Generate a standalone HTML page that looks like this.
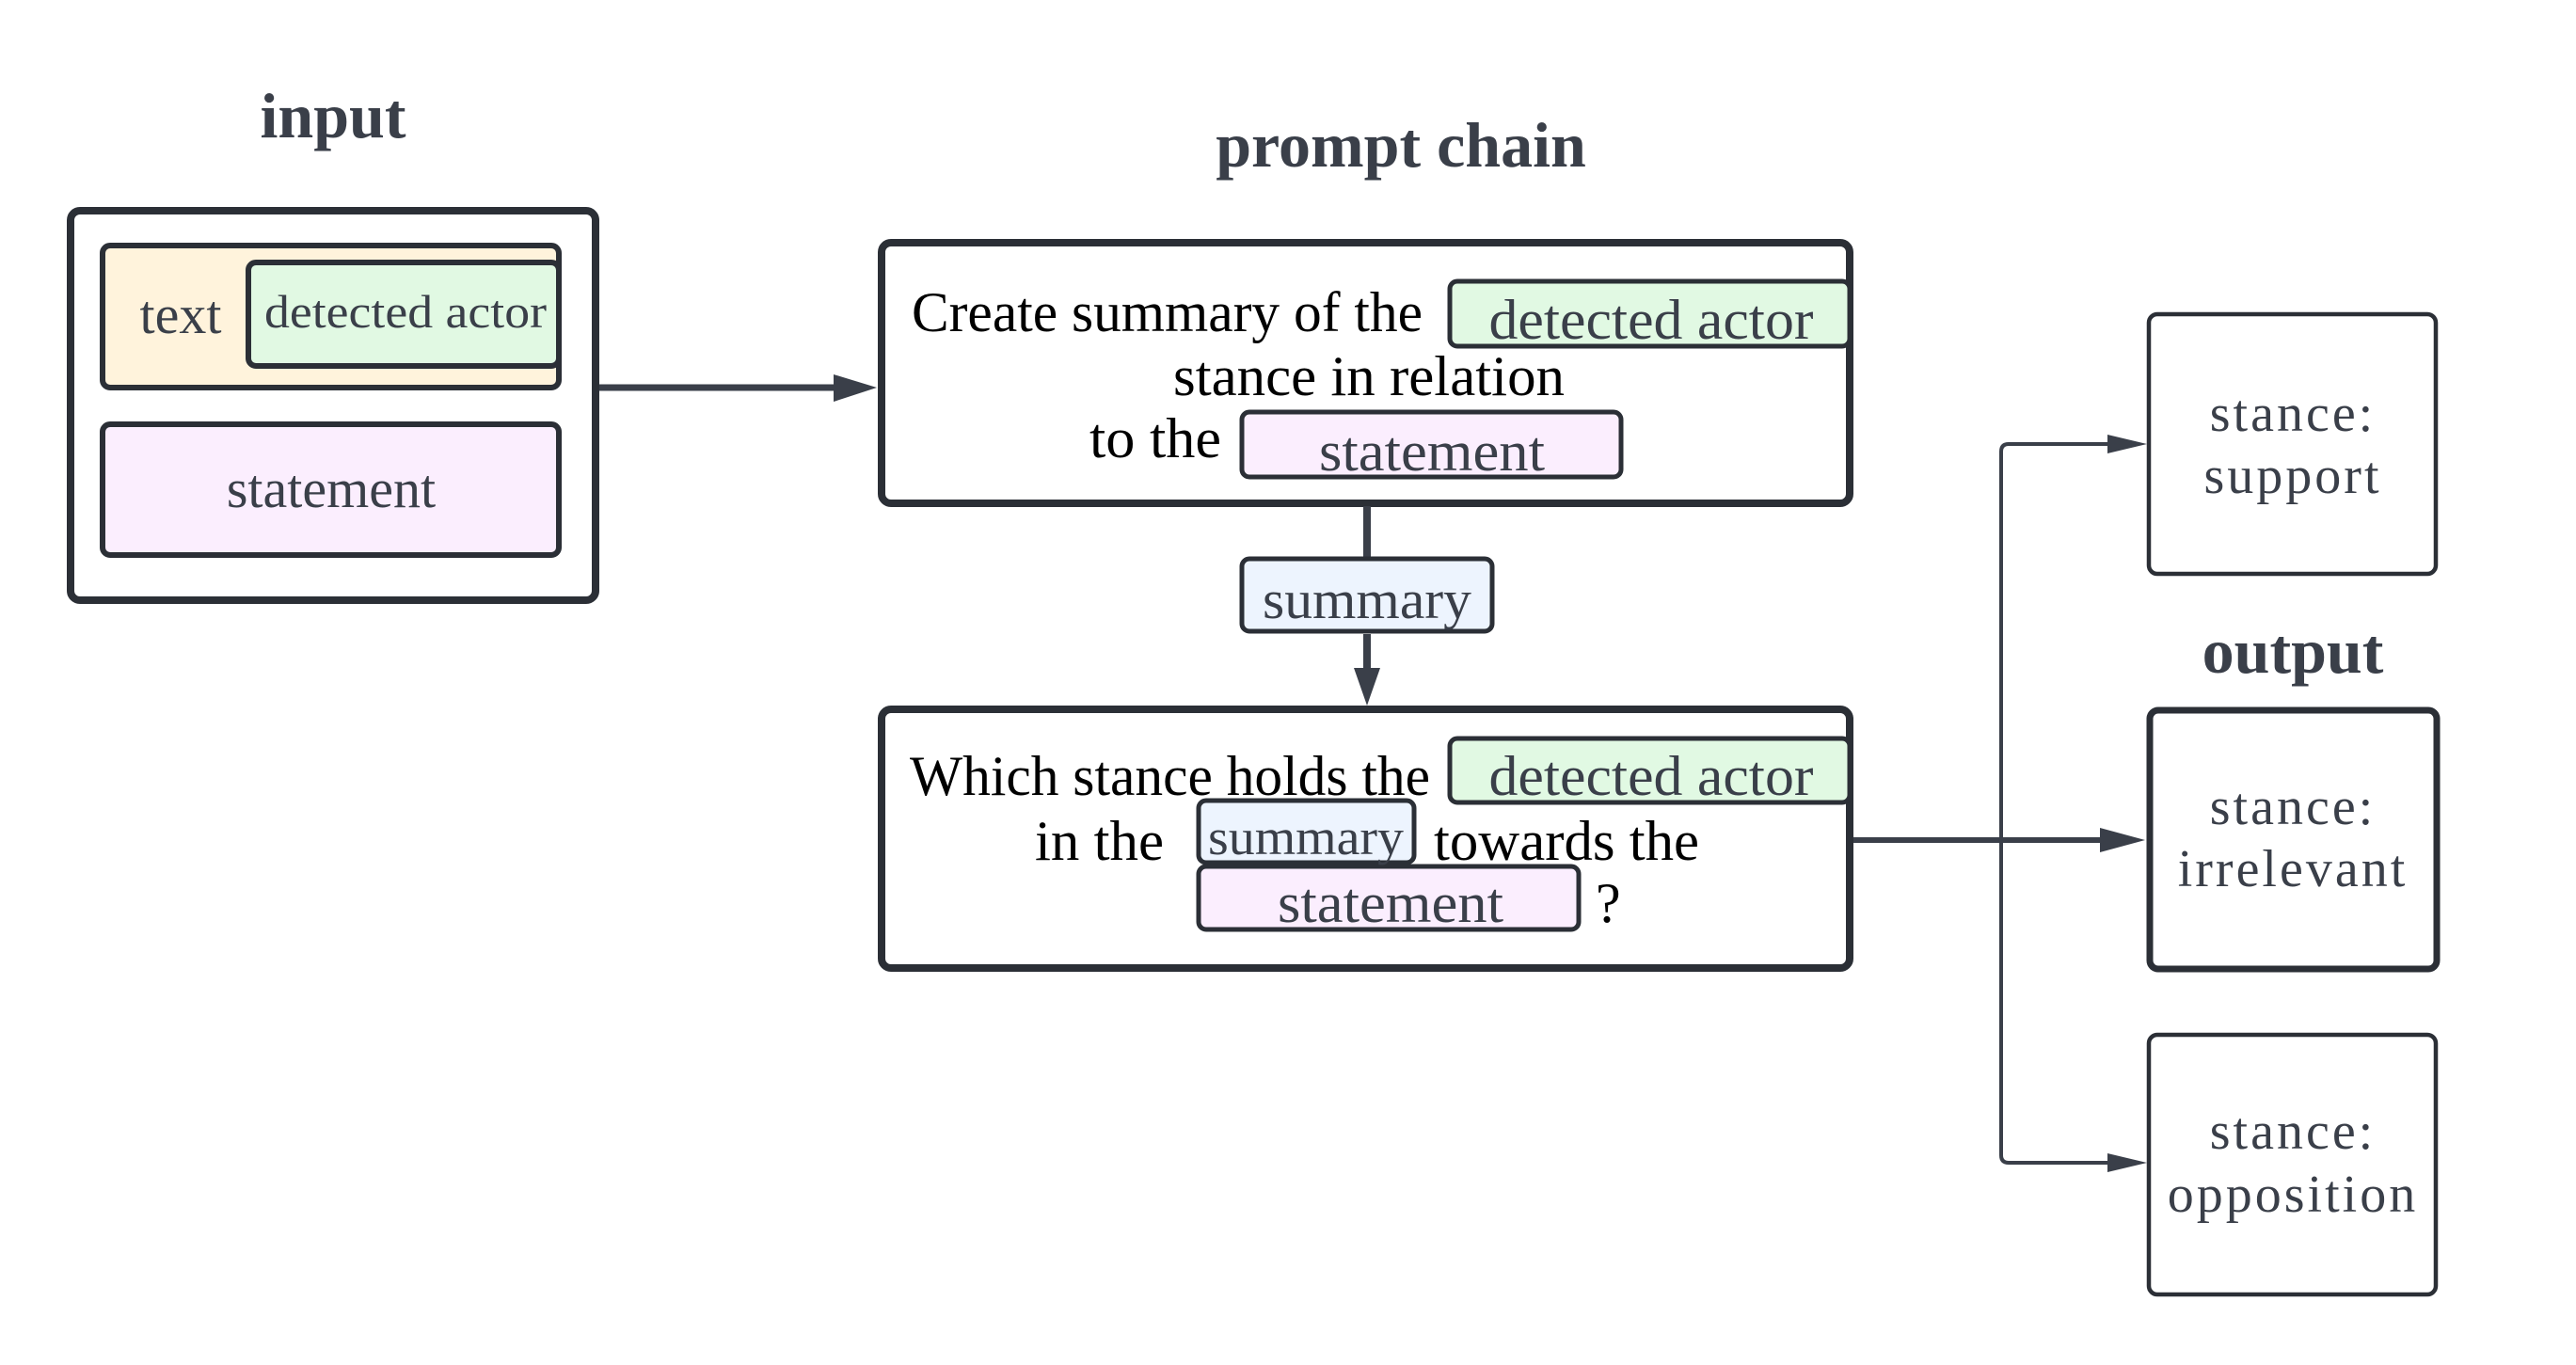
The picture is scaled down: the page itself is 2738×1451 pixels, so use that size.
<!DOCTYPE html>
<html><head><meta charset="utf-8"><style>
html,body{margin:0;padding:0;background:#fff;}
svg{display:block;}
text{font-family:"Liberation Serif",serif;}
</style></head><body>
<svg width="2738" height="1451" viewBox="0 0 2738 1451" xmlns="http://www.w3.org/2000/svg">
<g fill="#3a3f49" font-weight="bold" text-anchor="middle" font-size="68">
<text x="354" y="146">input</text>
<text x="1489" y="177">prompt chain</text>
<text x="2437" y="715">output</text>
</g>

<!-- input box -->
<rect x="75" y="224" width="558" height="414" rx="10" fill="#fff" stroke="#2b2f36" stroke-width="8"/>
<rect x="109" y="261" width="485" height="151" rx="8" fill="#fff3dc" stroke="#2b2f36" stroke-width="6"/>
<rect x="264" y="279" width="330" height="110" rx="8" fill="#e1f9e3" stroke="#2b2f36" stroke-width="6"/>
<rect x="109" y="451" width="485" height="139" rx="8" fill="#fbeefe" stroke="#2b2f36" stroke-width="6"/>
<g fill="#3a3f49" text-anchor="middle">
<text x="192" y="354" font-size="58">text</text>
<text x="431" y="348" font-size="50" textLength="300" lengthAdjust="spacingAndGlyphs">detected actor</text>
<text x="352" y="539" font-size="58">statement</text>
</g>

<!-- arrow input -> box1 -->
<line x1="637" y1="412" x2="900" y2="412" stroke="#3a3f49" stroke-width="7"/>
<polygon points="932,412 886,398 886,427" fill="#3a3f49"/>

<!-- box1 -->
<rect x="937" y="258" width="1029" height="277" rx="10" fill="#fff" stroke="#2b2f36" stroke-width="8"/>
<rect x="1541" y="299" width="425" height="69" rx="8" fill="#e1f9e3" stroke="#2b2f36" stroke-width="5"/>
<rect x="1320" y="438" width="403" height="69" rx="8" fill="#fbeefe" stroke="#2b2f36" stroke-width="5"/>
<g font-size="60">
<text x="969" y="352" fill="#000" textLength="543" lengthAdjust="spacingAndGlyphs">Create summary of the</text>
<text x="1455" y="420" fill="#000" text-anchor="middle" textLength="416" lengthAdjust="spacingAndGlyphs">stance in relation</text>
<text x="1158" y="486" fill="#000" textLength="140" lengthAdjust="spacingAndGlyphs">to the</text>
<text x="1755" y="360" fill="#3a3f49" text-anchor="middle" textLength="345" lengthAdjust="spacingAndGlyphs">detected actor</text>
<text x="1522" y="500" fill="#3a3f49" text-anchor="middle" textLength="240" lengthAdjust="spacingAndGlyphs">statement</text>
</g>

<!-- connector box1 -> summary -> box2 -->
<line x1="1453" y1="538" x2="1453" y2="594" stroke="#3a3f49" stroke-width="8"/>
<rect x="1320" y="594" width="266" height="77" rx="8" fill="#edf4fe" stroke="#2b2f36" stroke-width="5"/>
<text x="1453" y="657" font-size="58" fill="#3a3f49" text-anchor="middle" textLength="222" lengthAdjust="spacingAndGlyphs">summary</text>
<line x1="1453" y1="674" x2="1453" y2="715" stroke="#3a3f49" stroke-width="8"/>
<polygon points="1453,750 1439,710 1467,710" fill="#3a3f49"/>

<!-- box2 -->
<rect x="937" y="754" width="1029" height="275" rx="10" fill="#fff" stroke="#2b2f36" stroke-width="8"/>
<rect x="1541" y="785" width="425" height="68" rx="8" fill="#e1f9e3" stroke="#2b2f36" stroke-width="5"/>
<rect x="1274" y="851" width="229" height="66" rx="8" fill="#edf4fe" stroke="#2b2f36" stroke-width="5"/>
<rect x="1274" y="921" width="404" height="67" rx="8" fill="#fbeefe" stroke="#2b2f36" stroke-width="5"/>
<g font-size="60">
<text x="967" y="845" fill="#000" textLength="553" lengthAdjust="spacingAndGlyphs">Which stance holds the</text>
<text x="1100" y="914" fill="#000" textLength="137" lengthAdjust="spacingAndGlyphs">in the</text>
<text x="1524" y="914" fill="#000" textLength="282" lengthAdjust="spacingAndGlyphs">towards the</text>
<text x="1696" y="980" fill="#000">?</text>
<text x="1755" y="845" fill="#3a3f49" text-anchor="middle" textLength="345" lengthAdjust="spacingAndGlyphs">detected actor</text>
<text x="1478" y="980" fill="#3a3f49" text-anchor="middle" textLength="240" lengthAdjust="spacingAndGlyphs">statement</text>
<text x="1388" y="908" fill="#3a3f49" text-anchor="middle" font-size="54" textLength="208" lengthAdjust="spacingAndGlyphs">summary</text>
</g>

<!-- output connectors -->
<line x1="1970" y1="893" x2="2240" y2="893" stroke="#3a3f49" stroke-width="6"/>
<polygon points="2280,893 2232,880 2232,906" fill="#3a3f49"/>
<path d="M2127 893 V480 Q2127 472 2135 472 H2250" fill="none" stroke="#3a3f49" stroke-width="4"/>
<polygon points="2282,472 2240,462 2240,482" fill="#3a3f49"/>
<path d="M2127 893 V1228 Q2127 1236 2135 1236 H2250" fill="none" stroke="#3a3f49" stroke-width="4"/>
<polygon points="2282,1236 2240,1226 2240,1246" fill="#3a3f49"/>

<!-- output boxes -->
<rect x="2284" y="334" width="305" height="276" rx="9" fill="#fff" stroke="#2b2f36" stroke-width="4.5"/>
<rect x="2285" y="755" width="305" height="275" rx="9" fill="#fff" stroke="#2b2f36" stroke-width="7"/>
<rect x="2284" y="1100" width="305" height="276" rx="9" fill="#fff" stroke="#2b2f36" stroke-width="4.5"/>
<g fill="#3a3f49" font-size="56" text-anchor="middle" letter-spacing="3">
<text x="2437" y="458">stance:</text>
<text x="2437" y="524">support</text>
<text x="2437" y="876">stance:</text>
<text x="2437" y="942">irrelevant</text>
<text x="2437" y="1221">stance:</text>
<text x="2437" y="1288">opposition</text>
</g>
</svg>
</body></html>
